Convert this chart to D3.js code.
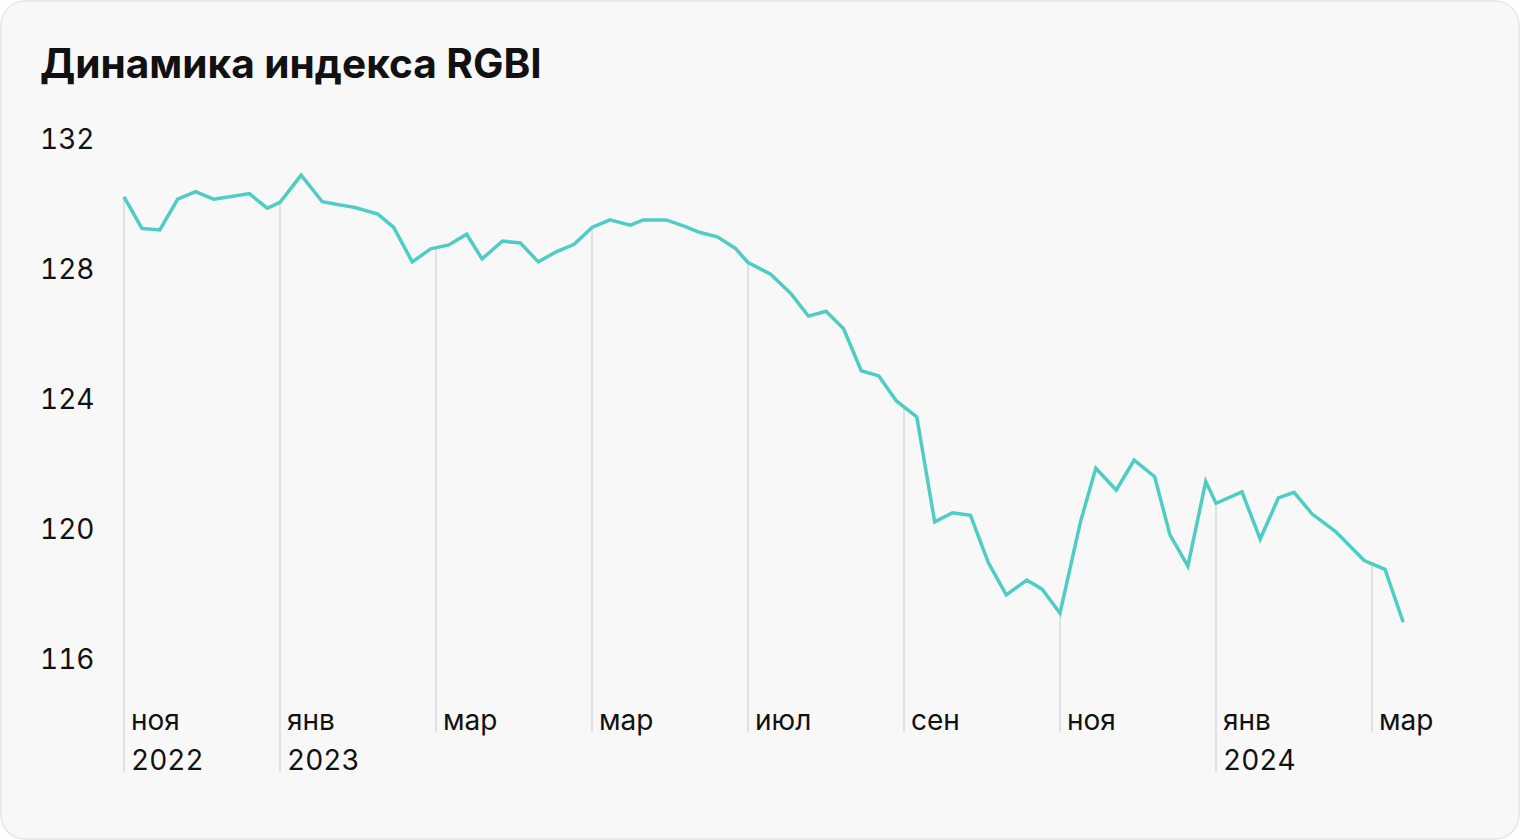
<!DOCTYPE html>
<html>
<head>
<meta charset="utf-8">
<script src="https://cdn.jsdelivr.net/npm/d3@7"></script>
<style>
  html, body { margin: 0; padding: 0; background: #ffffff; }
  svg { display: block; }
  text { font-family: Inter, Roboto, "Noto Sans", sans-serif; fill: #111; }
  .num { font-feature-settings: "tnum" 1; font-variant-numeric: tabular-nums; }
</style>
</head>
<body>
<svg id="chart" width="1520" height="840"></svg>
<script>
// ---- data ----
const title = "Динамика индекса RGBI";
const tickDates  = ["2022-11-01","2023-01-01","2023-03-01","2023-05-01","2023-07-01","2023-09-01","2023-11-01","2024-01-01","2024-03-01"];
const tickMonths = ["ноя","янв","мар","мар","июл","сен","ноя","янв","мар"];
const tickYears  = ["2022","2023","","","","","","2024",""];
const yTicks = [116, 120, 124, 128, 132];

const dates = [
  "2022-11-01","2022-11-08","2022-11-15","2022-11-22","2022-11-29","2022-12-06","2022-12-13","2022-12-20","2022-12-27",
  "2023-01-01","2023-01-09","2023-01-17","2023-01-23","2023-01-29","2023-02-07","2023-02-13","2023-02-20","2023-02-27",
  "2023-03-06","2023-03-13","2023-03-19","2023-03-27","2023-04-03","2023-04-10","2023-04-17","2023-04-24",
  "2023-05-01","2023-05-08","2023-05-16","2023-05-21","2023-05-30","2023-06-06","2023-06-12","2023-06-19","2023-06-26",
  "2023-07-01","2023-07-10","2023-07-18","2023-07-25","2023-08-01","2023-08-08","2023-08-15","2023-08-22","2023-08-29",
  "2023-09-06","2023-09-13","2023-09-20","2023-09-27","2023-10-04","2023-10-11","2023-10-19","2023-10-25",
  "2023-11-01","2023-11-09","2023-11-15","2023-11-23","2023-11-30","2023-12-08","2023-12-14","2023-12-21","2023-12-28",
  "2024-01-01","2024-01-11","2024-01-18","2024-01-25","2024-01-31","2024-02-07","2024-02-16","2024-02-27",
  "2024-03-06","2024-03-13"
];
const values = [
  130.22,129.25,129.20,130.15,130.38,130.15,130.23,130.32,129.87,
  130.05,130.89,130.07,129.98,129.90,129.69,129.28,128.22,128.62,
  128.74,129.07,128.31,128.86,128.80,128.22,128.53,128.76,
  129.28,129.51,129.35,129.51,129.51,129.32,129.13,128.99,128.64,
  128.20,127.84,127.25,126.55,126.70,126.16,124.87,124.71,123.94,
  123.45,120.22,120.50,120.42,118.96,117.97,118.43,118.15,
  117.41,120.22,121.87,121.20,122.12,121.61,119.82,118.86,121.46,
  120.79,121.14,119.69,120.96,121.13,120.46,119.92,119.03,
  118.76,117.13
];

// ---- layout ----
const W = 1520, H = 840;
const plotLeft = 124, plotRight = 1372;   // first and last tick positions
const yTop = 139, yBottom = 659;          // 132 and 116
const monthBaseline = 730, yearBaseline = 770;

const parse = d3.timeParse("%Y-%m-%d");
const data = dates.map((d, i) => ({ date: parse(d), value: values[i] }));
const tDates = tickDates.map(parse);

const step = (plotRight - plotLeft) / (tDates.length - 1);
const x = d3.scaleTime()
  .domain(tDates)
  .range(tDates.map((d, i) => plotLeft + i * step));
const y = d3.scaleLinear().domain([116, 132]).range([yBottom, yTop]);

const svg = d3.select("#chart");

// card
svg.append("rect")
  .attr("x", 1).attr("y", 1).attr("width", W - 2).attr("height", H - 2)
  .attr("rx", 24).attr("ry", 24)
  .attr("fill", "#f8f8f8").attr("stroke", "#e6e6e6").attr("stroke-width", 1.5);

// title
svg.append("text")
  .attr("x", 40).attr("y", 78)
  .attr("font-size", 40.6).attr("font-weight", 700)
  .attr("fill", "#000")
  .text(title);

// y labels
svg.append("g").selectAll("text").data(yTicks).join("text")
  .attr("class", "num")
  .attr("x", 40).attr("y", d => y(d))
  .attr("dy", "0.36em")
  .attr("font-size", 28)
  .text(d => d);

// value at a tick date (linear between neighbouring points)
function valueAt(t) {
  const i = d3.bisector(d => d.date).left(data, t);
  if (i <= 0) return data[0].value;
  if (i >= data.length) return data[data.length - 1].value;
  const a = data[i - 1], b = data[i];
  const f = (x(t) - x(a.date)) / (x(b.date) - x(a.date));
  return a.value + (b.value - a.value) * f;
}

// vertical tick lines from the line down to the labels
const ticksG = svg.append("g");
tDates.forEach((t, i) => {
  const tx = x(t);
  ticksG.append("line")
    .attr("x1", tx).attr("x2", tx)
    .attr("y1", y(valueAt(t)))
    .attr("y2", tickYears[i] ? yearBaseline + 2 : monthBaseline + 2)
    .attr("stroke", "#e1e1e1").attr("stroke-width", 2);
  ticksG.append("text")
    .attr("x", tx + 7).attr("y", monthBaseline)
    .attr("font-size", 28)
    .text(tickMonths[i]);
  if (tickYears[i]) {
    ticksG.append("text")
      .attr("class", "num")
      .attr("x", tx + 7).attr("y", yearBaseline)
      .attr("font-size", 28)
      .text(tickYears[i]);
  }
});

// line
const line = d3.line().x(d => x(d.date)).y(d => y(d.value));
svg.append("path")
  .datum(data)
  .attr("d", line)
  .attr("fill", "none")
  .attr("stroke", "#4ecdc4")
  .attr("stroke-width", 3.5)
  .attr("stroke-linejoin", "miter");
</script>
</body>
</html>
